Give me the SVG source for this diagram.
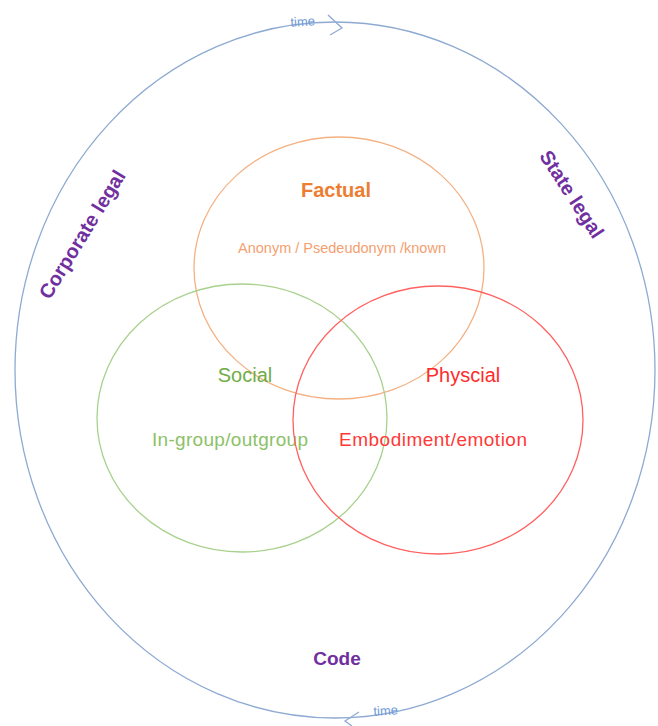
<svg xmlns="http://www.w3.org/2000/svg" width="658" height="726" viewBox="0 0 658 726">
<style>
.lbl{font-family:"Liberation Sans","Open Sans",sans-serif}
.b{font-weight:bold}
.purple{fill:#7030A0}
.ring{fill:none;stroke-width:1.3}
.time{fill:#6F9BD8;font-size:13px}
</style>
<rect width="658" height="726" fill="#fff"/>
<g id="outer">
<ellipse class="ring" cx="335" cy="370" rx="320" ry="348" stroke="#8EAAD2"/>
</g>
<g id="connectors" fill="none" stroke="#8EAAD2" stroke-width="1.3">
<polyline points="328,15 342,28 330,35"/>
<polyline points="359,712 345,721 352,726"/>
</g>
<g id="time-top"><text class="lbl time" x="303" y="26" text-anchor="middle" transform="rotate(-4 303 26)">time</text></g>
<g id="time-bottom"><text class="lbl time" x="386" y="715" text-anchor="middle" transform="rotate(-4 386 715)">time</text></g>
<g id="corporate-legal"><text class="lbl b purple" font-size="20" x="88" y="238" text-anchor="middle" transform="rotate(-58.5 88 238)">Corporate legal</text></g>
<g id="state-legal"><text class="lbl b purple" font-size="20" x="566" y="198" text-anchor="middle" transform="rotate(57 566 198)">State legal</text></g>
<g id="code"><text class="lbl b purple" font-size="19" x="337" y="665" text-anchor="middle">Code</text></g>
<g id="factual">
<ellipse class="ring" cx="339" cy="268" rx="145" ry="131" stroke="#F4B183"/>
<text class="lbl b" font-size="20" fill="#ED7D31" x="336" y="197" text-anchor="middle">Factual</text>
<text class="lbl" font-size="14.5" fill="#F4A070" x="342" y="253" text-anchor="middle">Anonym  / Psedeudonym /known</text>
</g>
<g id="social">
<ellipse class="ring" cx="242" cy="418" rx="145" ry="134" stroke="#A9D18E"/>
<text class="lbl" font-size="20" fill="#70AD47" x="245" y="382" text-anchor="middle">Social</text>
<text class="lbl" font-size="19" fill="#8CC168" x="230" y="446" text-anchor="middle" textLength="156">In-group/outgroup</text>
</g>
<g id="physical">
<ellipse class="ring" cx="438" cy="420" rx="145" ry="134" stroke="#FF6161"/>
<text class="lbl" font-size="20" fill="#FF2B2B" x="463" y="382" text-anchor="middle">Physcial</text>
<text class="lbl" font-size="19" fill="#FF3838" x="433" y="446" text-anchor="middle" textLength="188">Embodiment/emotion</text>
</g>
</svg>
